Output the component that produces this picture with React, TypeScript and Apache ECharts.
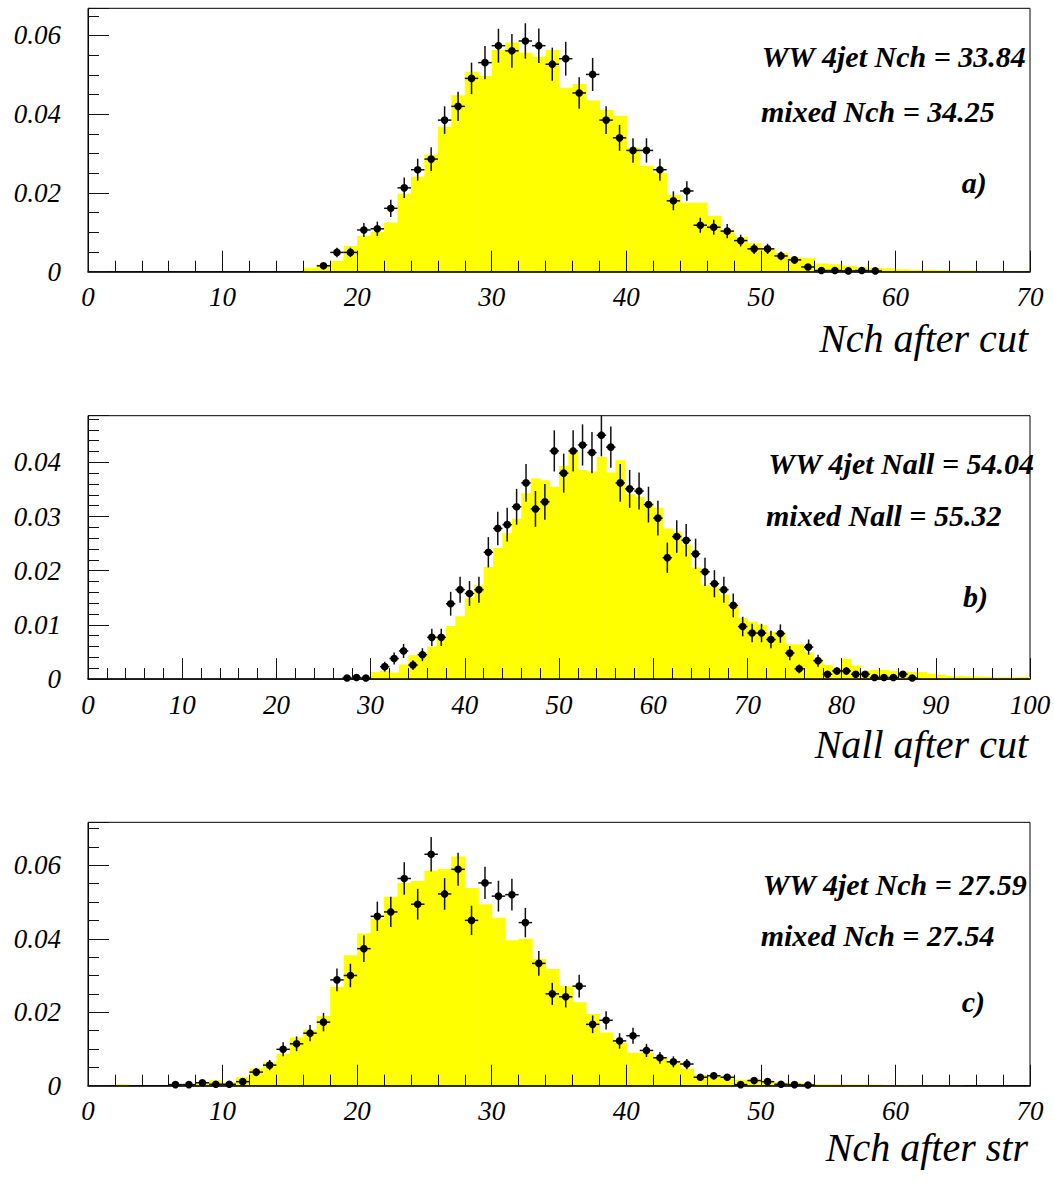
import React, { useEffect, useRef } from "react";
import * as echarts from "echarts";

// ---------- Panel a: Nch after cut ----------
const aHistFirstBin = 0;
const aHist = [
  0, 0, 0, 0, 0, 0, 0, 0, 0, 0,
  0, 0, 0, 0, 0, 0, 0.0010, 0.0018, 0.0027, 0.0065,
  0.0091, 0.0101, 0.0125, 0.0198, 0.0241, 0.0297, 0.0368, 0.0448, 0.0508, 0.0497,
  0.0563, 0.0582, 0.0556, 0.0546, 0.0563, 0.0467, 0.0477, 0.0435, 0.0411, 0.0396,
  0.0315, 0.0269, 0.0251, 0.0195, 0.0175, 0.0175, 0.0142, 0.0106, 0.0089, 0.0072,
  0.0059, 0.0048, 0.0037, 0.0034, 0.0021, 0.0019, 0.0015, 0.0012, 0.0010, 0.0009,
  0.0006, 0.0005, 0.0005, 0.0004, 0.0003, 0.0003, 0.0002, 0.0002, 0.0001, 0.0001,
];
const aPtsFirstBin = 17;
const aPts = [
  0.0015, 0.0049, 0.0049, 0.0106, 0.0109, 0.0161, 0.0213, 0.0259, 0.0286, 0.0385,
  0.0420, 0.0491, 0.0531, 0.0574, 0.0561, 0.0586, 0.0574, 0.0527, 0.0541, 0.0454,
  0.0501, 0.0385, 0.0340, 0.0308, 0.0308, 0.0259, 0.0180, 0.0205, 0.0118, 0.0113,
  0.0103, 0.0079, 0.0058, 0.0058, 0.0040, 0.0030, 0.0012, 0.0003, 0.0003, 0.0002,
  0.0003, 0.0002,
];
const aErr = [
  0.0007, 0.0012, 0.0012, 0.0018, 0.0018, 0.0022, 0.0026, 0.0028, 0.0030, 0.0035,
  0.0037, 0.0040, 0.0042, 0.0043, 0.0043, 0.0045, 0.0044, 0.0042, 0.0043, 0.0040,
  0.0042, 0.0035, 0.0033, 0.0031, 0.0031, 0.0028, 0.0024, 0.0025, 0.0019, 0.0019,
  0.0018, 0.0015, 0.0013, 0.0013, 0.0011, 0.0010, 0.0006, 0.0003, 0.0003, 0.0003,
  0.0003, 0.0003,
];

// ---------- Panel b: Nall after cut ----------
const bHistFirstBin = 0;
const bHist = [
  0, 0, 0, 0, 0, 0, 0, 0, 0, 0,
  0, 0, 0, 0, 0, 0, 0, 0, 0, 0,
  0, 0, 0, 0, 0, 0, 0, 0.0003, 0.0004, 0.0004,
  0.0013, 0.0015, 0.0012, 0.0027, 0.0044, 0.0050, 0.0060, 0.0075, 0.0098, 0.0116,
  0.0149, 0.0173, 0.0207, 0.0242, 0.0269, 0.0296, 0.0343, 0.0370, 0.0367, 0.0355,
  0.0393, 0.0419, 0.0386, 0.0383, 0.0410, 0.0381, 0.0404, 0.0341, 0.0336, 0.0325,
  0.0316, 0.0278, 0.0272, 0.0248, 0.0206, 0.0173, 0.0169, 0.0156, 0.0137, 0.0113,
  0.0106, 0.0100, 0.0087, 0.0087, 0.0064, 0.0064, 0.0049, 0.0037, 0.0026, 0.0017,
  0.0037, 0.0025, 0.0015, 0.0017, 0.0017, 0.0015, 0.0014, 0.0013, 0.0013, 0.0010,
  0.0008, 0.0006, 0.0006, 0.0005, 0.0005, 0.0004, 0.0003, 0.0003, 0.0003, 0.0004,
];
const bPtsFirstBin = 27;
const bPts = [
  0.0002, 0.0003, 0.0002, null, 0.0023, 0.0038, 0.0052, 0.0026, 0.0045, 0.0077,
  0.0077, 0.0139, 0.0165, 0.0158, 0.0165, 0.0234, 0.0278, 0.0285, 0.0318, 0.0362,
  0.0314, 0.0327, 0.0421, 0.0380, 0.0421, 0.0432, 0.0418, 0.0450, 0.0428, 0.0362,
  0.0351, 0.0347, 0.0322, 0.0297, 0.0224, 0.0263, 0.0256, 0.0231, 0.0198, 0.0176,
  0.0165, 0.0136, 0.0097, 0.0085, 0.0085, 0.0073, 0.0084, 0.0048, 0.0019, 0.0059,
  0.0034, 0.0009, 0.0015, 0.0015, 0.0009, 0.0009, 0.0003, 0.0003, 0.0003, 0.0009,
  0.0002,
];
const bErr = [
  0.0003, 0.0003, 0.0003, null, 0.0009, 0.0011, 0.0013, 0.0009, 0.0012, 0.0016,
  0.0016, 0.0022, 0.0024, 0.0023, 0.0024, 0.0028, 0.0031, 0.0031, 0.0033, 0.0035,
  0.0033, 0.0033, 0.0038, 0.0036, 0.0038, 0.0038, 0.0038, 0.0039, 0.0038, 0.0035,
  0.0035, 0.0034, 0.0033, 0.0032, 0.0028, 0.0030, 0.0030, 0.0028, 0.0026, 0.0025,
  0.0024, 0.0022, 0.0018, 0.0017, 0.0017, 0.0016, 0.0017, 0.0013, 0.0008, 0.0014,
  0.0011, 0.0006, 0.0007, 0.0007, 0.0006, 0.0006, 0.0003, 0.0003, 0.0003, 0.0006,
  0.0003,
];

// ---------- Panel c: Nch after str ----------
const cHistFirstBin = 0;
const cHist = [
  0, 0, 0.0004, 0, 0, 0, 0.0003, 0.0004, 0.0008, 0.0015,
  0.0009, 0.0023, 0.0047, 0.0064, 0.0087, 0.0131, 0.0152, 0.0190, 0.0269, 0.0355,
  0.0414, 0.0454, 0.0514, 0.0552, 0.0557, 0.0585, 0.0590, 0.0624, 0.0538, 0.0494,
  0.0457, 0.0396, 0.0400, 0.0345, 0.0318, 0.0271, 0.0227, 0.0195, 0.0145, 0.0117,
  0.0090, 0.0090, 0.0077, 0.0064, 0.0047, 0.0029, 0.0027, 0.0020, 0.0016, 0.0017,
  0.0011, 0.0009, 0.0008, 0.0006, 0.0004, 0.0004, 0.0003, 0.0003, 0.0003, 0.0002,
  0.0002, 0.0001, 0.0001, 0.0001, 0.0001, 0, 0, 0, 0, 0,
];
const cPtsFirstBin = 6;
const cPts = [
  0.0003, 0.0003, 0.0008, 0.0004, 0.0004, 0.0011, 0.0037, 0.0056, 0.0099, 0.0114,
  0.0143, 0.0173, 0.0288, 0.0300, 0.0373, 0.0461, 0.0473, 0.0564, 0.0494, 0.0630,
  0.0522, 0.0589, 0.0450, 0.0552, 0.0516, 0.0520, 0.0444, 0.0333, 0.0250, 0.0242,
  0.0271, 0.0167, 0.0178, 0.0122, 0.0136, 0.0096, 0.0076, 0.0065, 0.0059, 0.0023,
  0.0027, 0.0023, 0.0003, 0.0014, 0.0011, 0.0004, 0.0003, 0.0002,
];
const cErr = [
  0.0003, 0.0003, 0.0005, 0.0004, 0.0004, 0.0006, 0.0011, 0.0014, 0.0019, 0.0020,
  0.0022, 0.0025, 0.0031, 0.0032, 0.0036, 0.0040, 0.0041, 0.0044, 0.0042, 0.0047,
  0.0043, 0.0045, 0.0040, 0.0044, 0.0042, 0.0043, 0.0040, 0.0034, 0.0030, 0.0029,
  0.0031, 0.0024, 0.0025, 0.0021, 0.0022, 0.0018, 0.0016, 0.0015, 0.0014, 0.0009,
  0.0010, 0.0009, 0.0003, 0.0007, 0.0006, 0.0004, 0.0003, 0.0003,
];

// Axis ranges / ticks
const xMaxes = [70, 100, 70];
const yMaxes = [0.0669, 0.0486, 0.0717];
const yIntervals = [0.02, 0.01, 0.02];
const yMinorSplits = [4, 5, 4];

// Texts
const axisTitles = ["Nch after cut", "Nall after cut", "Nch after str"];
const line1Texts = ["WW 4jet Nch = 33.84", "WW 4jet Nall = 54.04", "WW 4jet Nch = 27.59"];
const line2Texts = ["mixed Nch = 34.25", "mixed Nall = 55.32", "mixed Nch = 27.54"];
const panelTags = ["a)", "b)", "c)"];

const SERIF = "Liberation Serif";

function histData(first: number, vals: number[]) {
  return vals.map((v, i) => [first + i, v]);
}
function ptsData(first: number, vals: (number | null)[], errs: (number | null)[]) {
  const out: number[][] = [];
  vals.forEach((v, i) => {
    if (v == null) return;
    out.push([first + i + 0.5, v, errs[i] as number]);
  });
  return out;
}

export default function App() {
  const ref = useRef<HTMLDivElement>(null);

  useEffect(() => {
    if (!ref.current) return;
    const chart = echarts.init(ref.current, undefined, { renderer: "svg" });

    const gridTops = [8.3, 415.7, 822.3];
    const gridH = 263.4;
    const grids = gridTops.map((t) => ({
      left: 88,
      top: t,
      width: 942,
      height: gridH,
      show: true,
      borderColor: "#000",
      borderWidth: 1,
      backgroundColor: "transparent",
    }));

    const xAxes = xMaxes.map((mx, i) => ({
      type: "value",
      gridIndex: i,
      min: 0,
      max: mx,
      interval: 10,
      z: 10,
      axisLine: { show: true, onZero: false, lineStyle: { color: "#000", width: 1.6 } },
      axisTick: { show: true, inside: true, length: 21, lineStyle: { color: "#111", width: 1 } },
      minorTick: { show: true, splitNumber: 5, length: 11, lineStyle: { color: "#111", width: 1 } },
      axisLabel: {
        margin: 12,
        fontFamily: SERIF,
        fontStyle: "italic",
        fontSize: 27,
        color: "#000",
      },
      splitLine: { show: false },
      minorSplitLine: { show: false },
    }));

    const yAxes = yMaxes.map((mx, i) => ({
      type: "value",
      gridIndex: i,
      min: 0,
      max: mx,
      interval: yIntervals[i],
      z: 10,
      axisLine: { show: true, onZero: false, lineStyle: { color: "#000", width: 1 } },
      axisTick: { show: true, inside: true, length: 21, lineStyle: { color: "#111", width: 1 } },
      minorTick: { show: true, splitNumber: yMinorSplits[i], length: 11, lineStyle: { color: "#111", width: 1 } },
      axisLabel: {
        margin: 27,
        fontFamily: SERIF,
        fontStyle: "italic",
        fontSize: 27,
        color: "#000",
        formatter: (v: number) => {
          const k = v / yIntervals[i];
          if (Math.abs(k - Math.round(k)) > 1e-6) return "";
          return v === 0 ? "0" : v.toFixed(2);
        },
      },
      splitLine: { show: false },
      minorSplitLine: { show: false },
    }));

    const hists = [
      histData(aHistFirstBin, aHist),
      histData(bHistFirstBin, bHist),
      histData(cHistFirstBin, cHist),
    ];
    const pts = [
      ptsData(aPtsFirstBin, aPts, aErr),
      ptsData(bPtsFirstBin, bPts, bErr),
      ptsData(cPtsFirstBin, cPts, cErr),
    ];

    const series: any[] = [];
    hists.forEach((d, i) => {
      series.push({
        type: "custom",
        xAxisIndex: i,
        yAxisIndex: i,
        z: 2,
        clip: true,
        encode: { x: 0, y: 1 },
        data: d,
        renderItem: (params: any, api: any) => {
          const x = api.value(0);
          const v = api.value(1);
          if (!v) return null;
          const tl = api.coord([x, v]);
          const br = api.coord([x + 1, 0]);
          return {
            type: "rect",
            shape: { x: tl[0], y: tl[1], width: br[0] - tl[0] + 0.6, height: br[1] - tl[1] },
            style: { fill: "#ffff00" },
          };
        },
      });
    });
    pts.forEach((d, i) => {
      series.push({
        type: "custom",
        xAxisIndex: i,
        yAxisIndex: i,
        z: 4,
        clip: false,
        encode: { x: 0, y: 1 },
        data: d,
        renderItem: (params: any, api: any) => {
          const x = api.value(0);
          const v = api.value(1);
          const e = api.value(2);
          const c = api.coord([x, v]);
          const lo = api.coord([x, Math.max(0, v - e)]);
          const hi = api.coord([x, Math.min(yMaxes[i], v + e)]);
          const l = api.coord([x - 0.5, v]);
          const r = api.coord([x + 0.5, v]);
          return {
            type: "group",
            children: [
              { type: "line", shape: { x1: c[0], y1: lo[1], x2: c[0], y2: hi[1] }, style: { stroke: "#111", lineWidth: 1.5 } },
              { type: "line", shape: { x1: l[0], y1: c[1], x2: r[0], y2: c[1] }, style: { stroke: "#111", lineWidth: 1.5 } },
              { type: "circle", shape: { cx: c[0], cy: c[1], r: 3.8 }, style: { fill: "#000" } },
            ],
          };
        },
      });
    });

    const titleMid = [338, 744, 1147.6];
    const l1 = [[761.7, 56.6], [768.3, 463.2], [762.7, 884.2]];
    const l2 = [[761, 111.6], [766, 515.6], [760.7, 935]];
    const tg = [[961.7, 182], [963, 596.6], [961.7, 1001.6]];

    const graphic: any[] = [];
    for (let i = 0; i < 3; i++) {
      graphic.push({
        type: "text",
        x: 1028,
        y: titleMid[i],
        z: 20,
        style: {
          text: axisTitles[i],
          fill: "#000",
          fontFamily: SERIF,
          fontStyle: "italic",
          fontSize: 40,
          align: "right",
          verticalAlign: "middle",
        },
      });
      const boldStyle = {
        fill: "#000",
        fontFamily: SERIF,
        fontStyle: "italic",
        fontWeight: "bold",
        fontSize: 30,
        align: "left",
        verticalAlign: "middle",
      };
      graphic.push({ type: "text", x: l1[i][0], y: l1[i][1], z: 20, style: { ...boldStyle, text: line1Texts[i] } });
      graphic.push({ type: "text", x: l2[i][0], y: l2[i][1], z: 20, style: { ...boldStyle, text: line2Texts[i] } });
      graphic.push({ type: "text", x: tg[i][0], y: tg[i][1], z: 20, style: { ...boldStyle, text: panelTags[i] } });
    }

    chart.setOption({
      animation: false,
      backgroundColor: "#fff",
      grid: grids,
      xAxis: xAxes,
      yAxis: yAxes,
      series,
      graphic,
    });

    return () => {
      chart.dispose();
    };
  }, []);

  return (
    <div
      ref={ref}
      style={{ position: "absolute", left: 0, top: 0, width: 1054, height: 1182 }}
    />
  );
}
